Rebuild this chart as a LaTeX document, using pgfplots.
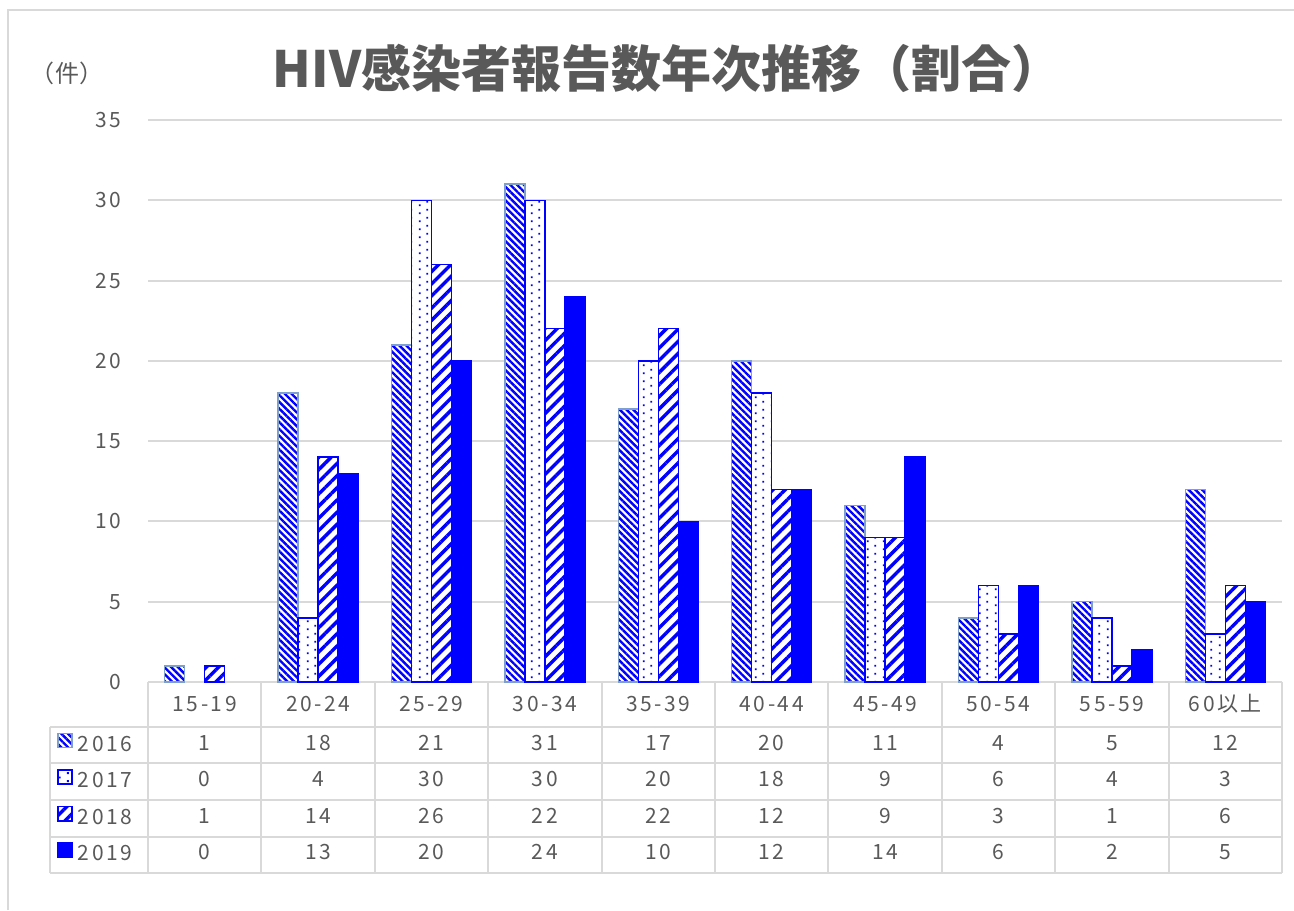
\documentclass[border=0pt]{standalone}
\usepackage{fontspec}
\setmainfont{Noto Sans CJK JP}
\newfontfamily\numfont{Noto Sans CJK JP}[LetterSpace=12]
\usepackage{pgfplots}
\pgfplotsset{compat=1.18}
\usepackage{pgfplotstable}
\usetikzlibrary{patterns,patterns.meta}

\definecolor{txt}{HTML}{595959}
\definecolor{gridc}{HTML}{D9D9D9}
\definecolor{bl}{HTML}{0000FF}
\definecolor{bord16}{HTML}{7F9FCF}

\pgfdeclarepatternformonly{sdots}{\pgfpointorigin}{\pgfpoint{8pt}{4pt}}{\pgfpoint{8pt}{4pt}}{%
  \pgfpathrectangle{\pgfpoint{1.5pt}{0.5pt}}{\pgfpoint{1pt}{1pt}}%
  \pgfpathrectangle{\pgfpoint{5.5pt}{2.5pt}}{\pgfpoint{1pt}{1pt}}%
  \pgfusepath{fill}}

\pgfplotstableread{
x cat v16 v17 v18 v19
0 15-19 1 0 1 0
1 20-24 18 4 14 13
2 25-29 21 30 26 20
3 30-34 31 30 22 24
4 35-39 17 20 22 10
5 40-44 20 18 12 12
6 45-49 11 9 9 14
7 50-54 4 6 3 6
8 55-59 5 4 1 2
9 60以上 12 3 6 5
}\data

\newcommand{\tf}{\fontsize{10.5}{12}\numfont}

\begin{document}
\begin{tikzpicture}
\begin{scope}[x=0.5pt,y=-0.5pt,shift={(0,455pt)}]
  \useasboundingbox (0,0) rectangle (1294,910);
  \draw[gridc, line width=1pt] (7.5,910) -- (7.5,10.5) -- (1294,10.5);
  \node[font=\fontsize{25}{30}\selectfont\bfseries, text=txt] at (667,68) {HIV感染者報告数年次推移（割合）};
  \node[font=\fontsize{12}{14}\selectfont, text=txt] at (67,73) {（件）};
  \begin{scope}[gridc, line width=1pt]
    \foreach \yy in {727,763,800,837,873} {\draw (50,\yy) -- (1282,\yy);}
    \draw (148,682) -- (1282,682);
    \draw (50,727) -- (50,873);
    \foreach \k in {0,...,10} {\draw ({148+113.4*\k},682) -- ({148+113.4*\k},873);}
  \end{scope}
\end{scope}
\begin{axis}[
  at={(74pt,114pt)}, anchor=south west,
  scale only axis, width=567pt, height=281pt,
  xmin=-0.5, xmax=9.5, ymin=0, ymax=35,
  ytick={0,5,...,35},
  xtick={0,...,9},
  xticklabels from table={\data}{cat},
  axis line style={draw=none},
  major tick length=0pt,
  ymajorgrids, grid style={gridc, line width=1pt},
  ticklabel style={font=\tf, text=txt, inner sep=0pt},
  yticklabel style={anchor=east, xshift=-13pt},
  xticklabel style={anchor=base, yshift=-14.5pt},
  /pgf/number format/assume math mode=true,
  clip=false,
  unbounded coords=discard,
  legend cell align=left,
  legend style={draw=none, fill=none, inner sep=0pt, outer sep=0pt,
    at={(-0.0802,-0.0899)}, anchor=north west,
    nodes={inner sep=0pt, text height=8pt, text depth=2pt, font=\tf, text=txt},
    row sep=6.9pt, column sep=2.5pt},
  legend image code/.code={\draw[#1] (0pt,-1.2pt) rectangle (7.2pt,6pt);},
  every node near coord/.style={anchor=base, inner sep=0pt, font=\tf, text=txt},
]
\addplot[ybar, bar width=10pt, bar shift=-15pt, draw=bord16, line width=0.75pt, fill=white,
  postaction={pattern={Lines[angle=-45,distance=2.4pt,line width=1.2pt]}, pattern color=bl},
  y filter/.expression={y==0 ? nan : y}]
  table[x=x, y=v16] {\data};
\addplot[ybar, bar width=10pt, bar shift=-5pt, draw=bl, line width=0.75pt, fill=white,
  postaction={pattern=sdots, pattern color=bl},
  y filter/.expression={y==0 ? nan : y}]
  table[x=x, y=v17] {\data};
\addplot[ybar, bar width=10pt, bar shift=5pt, draw=bl, line width=0.75pt, fill=white,
  postaction={pattern={Lines[angle=45,distance=4.3pt,line width=1.7pt]}, pattern color=bl},
  y filter/.expression={y==0 ? nan : y}]
  table[x=x, y=v18] {\data};
\addplot[ybar, bar width=10pt, bar shift=15pt, draw=bl, line width=0.75pt, fill=bl,
  y filter/.expression={y==0 ? nan : y}]
  table[x=x, y=v19] {\data};
\legend{2016,2017,2018,2019}
\addplot[draw=none, mark=none, forget plot, nodes near coords, point meta=explicit symbolic]
  table[x=x, y expr=-4.235, meta=v16] {\data};
\addplot[draw=none, mark=none, forget plot, nodes near coords, point meta=explicit symbolic]
  table[x=x, y expr=-6.539, meta=v17] {\data};
\addplot[draw=none, mark=none, forget plot, nodes near coords, point meta=explicit symbolic]
  table[x=x, y expr=-8.781, meta=v18] {\data};
\addplot[draw=none, mark=none, forget plot, nodes near coords, point meta=explicit symbolic]
  table[x=x, y expr=-11.085, meta=v19] {\data};
\end{axis}
\end{tikzpicture}
\end{document}
